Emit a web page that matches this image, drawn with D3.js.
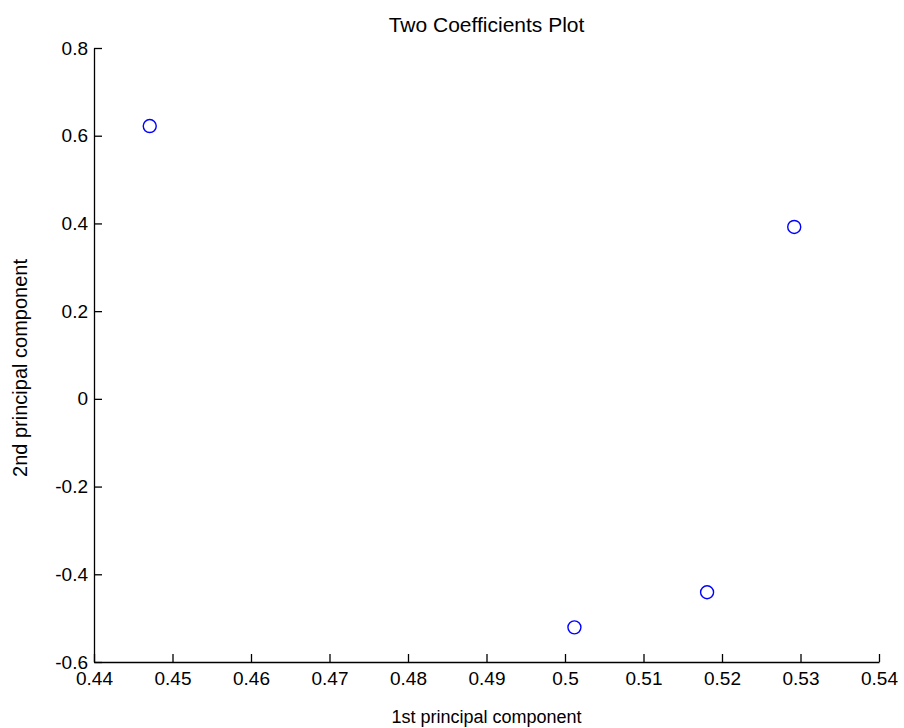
<!DOCTYPE html>
<html>
<head>
<meta charset="utf-8">
<script src="https://cdn.jsdelivr.net/npm/d3@7/dist/d3.min.js"></script>
<style>
  body { margin: 0; background: #fff; }
  svg text { font-family: Arial, "Liberation Sans", sans-serif; fill: #000; }
</style>
</head>
<body>
<div id="chart"></div>
<script>
var width = 904, height = 728;

// data
var pc1 = [0.4471, 0.5012, 0.5181, 0.5292];
var pc2 = [0.622, -0.521, -0.441, 0.392];
var xTicks = [0.44, 0.45, 0.46, 0.47, 0.48, 0.49, 0.5, 0.51, 0.52, 0.53, 0.54];
var yTicks = [-0.6, -0.4, -0.2, 0, 0.2, 0.4, 0.6, 0.8];

var mLeft = 94, mRight = 879, mTop = 48, mBottom = 662;

var x = d3.scaleLinear().domain([0.44, 0.54]).range([mLeft, mRight]);
var y = d3.scaleLinear().domain([-0.6, 0.8]).range([mBottom, mTop]);

var svg = d3.select("#chart").append("svg")
	.attr("width", width).attr("height", height);

var fmt = function(d) { return d === 0 ? "0" : String(+d.toFixed(2)); };

var xAxis = svg.append("g").attr("transform", "translate(0," + mBottom + ")")
	.call(d3.axisBottom(x).tickValues(xTicks).tickFormat(fmt).tickSizeInner(-8).tickSizeOuter(0).tickPadding(6));
var yAxis = svg.append("g").attr("transform", "translate(" + mLeft + ",0)")
	.call(d3.axisLeft(y).tickValues(yTicks).tickFormat(fmt).tickSizeInner(-8).tickSizeOuter(0).tickPadding(6));

svg.selectAll(".domain").attr("stroke", "#000").attr("stroke-width", 1.3);
svg.selectAll(".tick line").attr("stroke", "#000").attr("stroke-width", 1.3);
svg.selectAll(".tick text").attr("font-size", 19).attr("font-family", "Arial, 'Liberation Sans', sans-serif");
xAxis.selectAll(".tick text").attr("dy", "0.9em");

svg.append("g").selectAll("circle")
	.data(pc1).enter().append("circle")
	.attr("cx", function(d) { return x(d); })
	.attr("cy", function(d, i) { return y(pc2[i]); })
	.attr("r", 6.5)
	.attr("fill", "none")
	.attr("stroke", "#0000ff")
	.attr("stroke-width", 1.4);

svg.append("text").attr("x", (mLeft + mRight) / 2).attr("y", 32)
	.attr("text-anchor", "middle").attr("font-size", 21)
	.text("Two Coefficients Plot");

svg.append("text").attr("x", (mLeft + mRight) / 2).attr("y", 723)
	.attr("text-anchor", "middle").attr("font-size", 18)
	.text("1st principal component");

svg.append("text")
	.attr("transform", "translate(27,368)rotate(-90)")
	.attr("text-anchor", "middle").attr("font-size", 20)
	.text("2nd principal component");
</script>
</body>
</html>
